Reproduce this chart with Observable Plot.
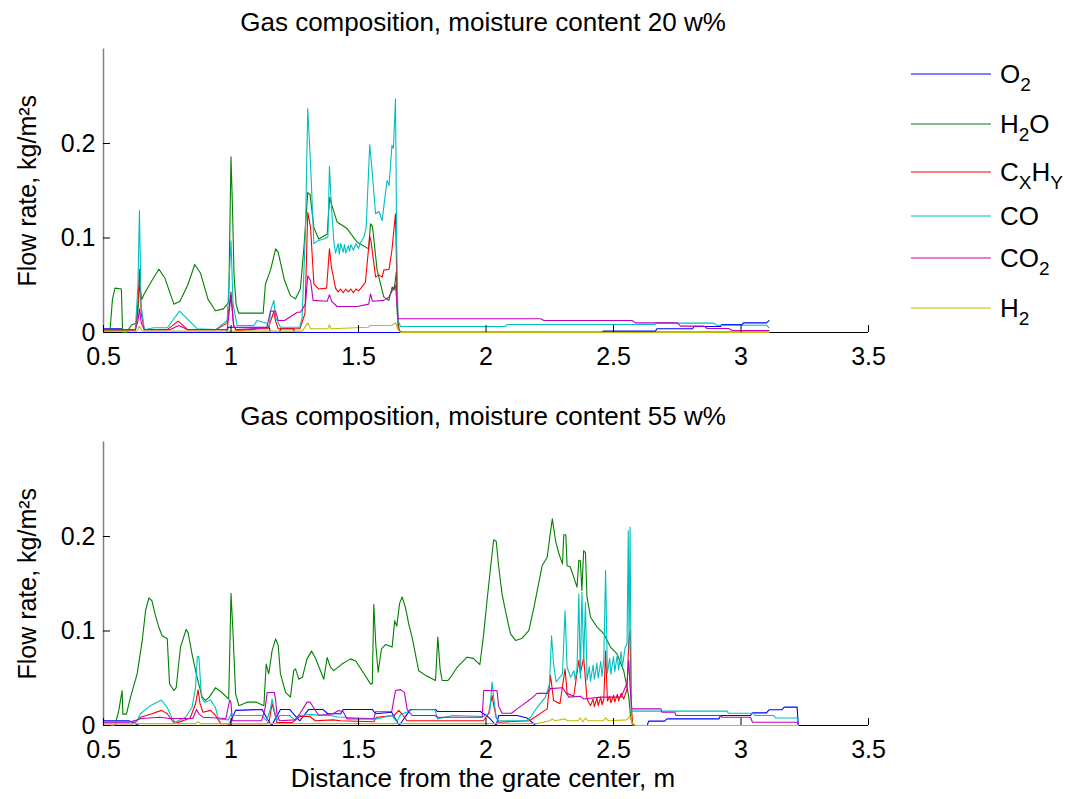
<!DOCTYPE html>
<html><head><meta charset="utf-8">
<script src="https://cdn.jsdelivr.net/npm/d3@7"></script>
<script src="https://cdn.jsdelivr.net/npm/@observablehq/plot@0.6"></script>
<style>
body{margin:0;background:#fff;}
#wrap{position:relative;width:1072px;height:799px;background:#fff;font-family:"Liberation Sans",Arial,sans-serif;color:#000;overflow:hidden}
.ttl{position:absolute;left:0;width:966px;text-align:center;font-size:26px;line-height:26px;white-space:nowrap}
.lg{position:absolute;left:911px;font-size:26px;line-height:26px;white-space:nowrap}
.lg svg{position:absolute;left:0;top:0;overflow:visible}
.lg span.t{position:absolute;left:89px;top:-13px}
.lg sub{font-size:19px;vertical-align:baseline;position:relative;top:8px}
</style></head><body><div id="wrap"></div><script>
// ---------- categories / ticks ----------
const gases = ["O2", "H2O", "CxHy", "CO", "CO2", "H2"];
const gasColors = ["#0000ff", "#008000", "#ff0000", "#00bfbf", "#bf00bf", "#bfbf00"];
const xTicks = [0.5, 1, 1.5, 2, 2.5, 3, 3.5];
const yTicks = [0, 0.1, 0.2];
const titles = ["Gas composition, moisture content 20 w%", "Gas composition, moisture content 55 w%"];

// ---------- panel 1: moisture 20 w% ([x, y] pairs) ----------
const top_O2 = [[0.5,0.004],[0.57,0.004],[0.575,0],[0.98,0],[0.99,0.0056],[1.15,0.0056],[1.155,0],[1.19,0],[1.195,0.004],[1.245,0.004],[1.25,0],[2.455,0],[2.46,0.0015],[2.665,0.0015],[2.67,0.004],[2.81,0.004],[2.815,0.0063],[2.92,0.0063],[2.925,0.0083],[3.005,0.0083],[3.01,0.0102],[3.10,0.0102],[3.11,0.0125]];
const top_H2O = [[0.5,0],[0.525,0],[0.535,0.035],[0.545,0.047],[0.57,0.046],[0.575,0],[0.59,0],[0.61,0.008],[0.63,0.01],[0.637,0.03],[0.641,0.05],[0.65,0.035],[0.66,0.041],[0.69,0.055],[0.717,0.067],[0.74,0.058],[0.776,0.030],[0.80,0.033],[0.83,0.05],[0.858,0.072],[0.88,0.063],[0.91,0.035],[0.939,0.023],[0.97,0.025],[0.991,0.032],[1.0,0.186],[1.006,0.13],[1.012,0.06],[1.02,0.03],[1.03,0.0205],[1.126,0.0205],[1.135,0.051],[1.155,0.066],[1.175,0.0885],[1.185,0.085],[1.21,0.055],[1.233,0.039],[1.253,0.0356],[1.272,0.046],[1.286,0.09],[1.301,0.148],[1.31,0.146],[1.325,0.111],[1.344,0.099],[1.377,0.104],[1.387,0.143],[1.395,0.135],[1.416,0.117],[1.455,0.110],[1.495,0.0955],[1.54,0.0885],[1.547,0.115],[1.555,0.112],[1.573,0.066],[1.599,0.0377],[1.619,0.034],[1.632,0.048],[1.64,0.045],[1.648,0.064],[1.652,0.0198],[1.66,0.002],[1.67,0],[3.11,0]];
const top_CxHy = [[0.5,0.002],[0.625,0.002],[0.635,0.03],[0.641,0.067],[0.648,0.02],[0.66,0.003],[0.75,0.003],[0.793,0.012],[0.83,0.003],[0.94,0.003],[0.985,0.0099],[1.0,0.0427],[1.01,0.008],[1.02,0.002],[1.12,0.004],[1.145,0.004],[1.168,0.022],[1.175,0.012],[1.185,0.004],[1.27,0.004],[1.29,0.0198],[1.301,0.127],[1.312,0.111],[1.325,0.0515],[1.344,0.046],[1.375,0.047],[1.386,0.0885],[1.394,0.069],[1.41,0.047],[1.42,0.043],[1.43,0.046],[1.44,0.042],[1.45,0.046],[1.46,0.043],[1.47,0.046],[1.48,0.042],[1.49,0.046],[1.50,0.044],[1.51,0.047],[1.527,0.053],[1.544,0.102],[1.55,0.095],[1.567,0.0586],[1.58,0.061],[1.593,0.0586],[1.599,0.066],[1.62,0.067],[1.631,0.087],[1.645,0.1256],[1.65,0.06],[1.655,0.004],[1.665,0.0005],[3.11,0.0005]];
const top_CO = [[0.5,0.003],[0.625,0.003],[0.635,0.05],[0.641,0.129],[0.647,0.03],[0.66,0.003],[0.697,0.005],[0.75,0.005],[0.798,0.0226],[0.867,0.004],[0.94,0.003],[0.985,0.0127],[1.0,0.097],[1.008,0.03],[1.024,0.0074],[1.09,0.0074],[1.102,0.0127],[1.14,0.0098],[1.15,0.0056],[1.155,0.023],[1.168,0.034],[1.175,0.016],[1.194,0.0056],[1.27,0.0056],[1.279,0.016],[1.292,0.108],[1.301,0.237],[1.312,0.178],[1.325,0.094],[1.34,0.097],[1.364,0.099],[1.38,0.101],[1.386,0.176],[1.394,0.1326],[1.403,0.097],[1.41,0.084],[1.42,0.094],[1.425,0.083],[1.43,0.094],[1.44,0.085],[1.445,0.093],[1.45,0.084],[1.46,0.092],[1.465,0.086],[1.47,0.093],[1.48,0.087],[1.49,0.094],[1.50,0.089],[1.51,0.096],[1.521,0.101],[1.53,0.111],[1.544,0.1986],[1.55,0.182],[1.567,0.1256],[1.58,0.128],[1.593,0.1185],[1.60,0.135],[1.612,0.161],[1.62,0.1556],[1.631,0.198],[1.637,0.195],[1.645,0.247],[1.65,0.09],[1.655,0.0127],[1.665,0.0063],[2.076,0.0063],[2.083,0.0085],[2.659,0.0085],[2.671,0.0099],[2.893,0.0099],[2.906,0.0077],[3.10,0.0077],[3.11,0.005]];
const top_CO2 = [[0.5,0.003],[0.625,0.003],[0.635,0.012],[0.641,0.025],[0.648,0.01],[0.66,0.003],[0.76,0.003],[0.795,0.0074],[0.83,0.003],[0.985,0.003],[1.0,0.039],[1.01,0.008],[1.02,0.003],[1.14,0.005],[1.155,0.0226],[1.175,0.0226],[1.185,0.0127],[1.21,0.0127],[1.26,0.0215],[1.272,0.0215],[1.292,0.03],[1.301,0.06],[1.312,0.055],[1.322,0.034],[1.377,0.033],[1.386,0.040],[1.395,0.033],[1.416,0.0275],[1.495,0.0275],[1.54,0.030],[1.547,0.041],[1.555,0.033],[1.599,0.034],[1.619,0.0373],[1.639,0.048],[1.645,0.05],[1.651,0.03],[1.655,0.0145],[2.214,0.0145],[2.227,0.0127],[2.573,0.0127],[2.586,0.0102],[2.75,0.0102],[2.763,0.0067],[2.855,0.0067],[2.867,0.0042],[2.952,0.0042],[2.965,0.0021],[3.11,0.0021]];
const top_H2 = [[0.5,0.0015],[0.63,0.0015],[0.641,0.0065],[0.652,0.0015],[1.28,0.0015],[1.301,0.0102],[1.312,0.004],[1.38,0.004],[1.386,0.008],[1.392,0.004],[1.54,0.0055],[1.544,0.0074],[1.63,0.0074],[1.645,0.0102],[1.655,0.003],[1.665,0],[3.11,0]];

// ---------- panel 2: moisture 55 w% ([x, y] pairs) ----------
const bot_O2 = [[0.5,0.005],[0.6,0.005],[0.64,0],[0.99,0],[1.0,0.005],[1.018,0.016],[1.122,0.017],[1.14,0.008],[1.16,0],[1.175,0.008],[1.185,0.0124],[1.194,0.017],[1.23,0.017],[1.25,0.0106],[1.27,0.005],[1.305,0.017],[1.36,0.017],[1.38,0.0124],[1.43,0.0124],[1.44,0.017],[1.554,0.017],[1.567,0.0124],[1.63,0.014],[1.66,0],[1.68,0.008],[1.704,0.017],[1.802,0.017],[1.81,0.0148],[1.978,0.0148],[2.01,0.0088],[2.04,0],[2.05,0.0106],[2.122,0.0106],[2.161,0.008],[2.194,0],[2.632,0],[2.638,0.0046],[2.70,0.0046],[2.71,0.007],[2.913,0.007],[2.92,0.0106],[3.037,0.0106],[3.045,0.0134],[3.10,0.0134],[3.11,0.0166],[3.16,0.0166],[3.17,0.0194],[3.22,0.0194],[3.225,0]];
const bot_H2O = [[0.5,0],[0.545,0],[0.56,0.016],[0.573,0.037],[0.576,0.012],[0.59,0.012],[0.606,0.030],[0.632,0.0547],[0.652,0.090],[0.665,0.1217],[0.678,0.135],[0.69,0.132],[0.704,0.116],[0.717,0.104],[0.73,0.095],[0.75,0.0917],[0.759,0.044],[0.776,0.037],[0.785,0.040],[0.802,0.083],[0.824,0.1016],[0.832,0.098],[0.847,0.0758],[0.867,0.051],[0.887,0.030],[0.9,0.0265],[0.915,0.030],[0.939,0.040],[0.96,0.036],[0.991,0.028],[1.0,0.140],[1.008,0.097],[1.018,0.0335],[1.031,0.021],[1.063,0.0247],[1.10,0.0247],[1.129,0.021],[1.138,0.065],[1.148,0.0547],[1.161,0.079],[1.175,0.0917],[1.185,0.085],[1.194,0.0547],[1.214,0.035],[1.233,0.030],[1.246,0.058],[1.253,0.060],[1.266,0.049],[1.28,0.051],[1.298,0.0705],[1.316,0.0787],[1.33,0.072],[1.351,0.058],[1.364,0.049],[1.377,0.072],[1.39,0.0617],[1.403,0.058],[1.435,0.065],[1.469,0.0705],[1.49,0.068],[1.514,0.058],[1.547,0.044],[1.554,0.044],[1.56,0.128],[1.568,0.085],[1.577,0.0564],[1.59,0.081],[1.606,0.0857],[1.632,0.083],[1.642,0.111],[1.65,0.105],[1.661,0.129],[1.671,0.136],[1.684,0.125],[1.697,0.1076],[1.71,0.0935],[1.736,0.058],[1.763,0.053],[1.802,0.0476],[1.811,0.0935],[1.82,0.06],[1.828,0.0476],[1.85,0.0476],[1.861,0.051],[1.887,0.0617],[1.926,0.0723],[1.95,0.071],[1.976,0.0645],[1.991,0.097],[2.004,0.132],[2.018,0.1675],[2.03,0.1965],[2.04,0.195],[2.05,0.1675],[2.063,0.139],[2.076,0.1217],[2.096,0.097],[2.116,0.090],[2.14,0.092],[2.168,0.1005],[2.188,0.125],[2.22,0.169],[2.24,0.178],[2.25,0.199],[2.26,0.2187],[2.273,0.195],[2.286,0.1817],[2.3,0.171],[2.305,0.2018],[2.313,0.2018],[2.318,0.169],[2.33,0.168],[2.344,0.157],[2.357,0.1464],[2.364,0.1746],[2.37,0.1746],[2.376,0.143],[2.383,0.185],[2.39,0.183],[2.396,0.1358],[2.41,0.1146],[2.436,0.104],[2.462,0.097],[2.488,0.083],[2.514,0.0758],[2.54,0.058],[2.553,0.0405],[2.56,0.03],[2.567,0.0088],[2.575,0],[3.225,0]];
const bot_CxHy = [[0.5,0.002],[0.62,0.002],[0.645,0.0088],[0.69,0.0124],[0.727,0.016],[0.75,0.0124],[0.77,0.005],[0.78,0.002],[0.84,0.008],[0.861,0.023],[0.871,0.0378],[0.878,0.024],[0.89,0.014],[0.92,0.016],[0.939,0.0106],[0.96,0.002],[1.14,0.002],[1.15,0.005],[1.161,0.023],[1.172,0.012],[1.18,0.003],[1.24,0.003],[1.27,0.0095],[1.31,0.0095],[1.33,0.005],[1.40,0.006],[1.43,0.005],[1.56,0.004],[1.57,0.0088],[1.64,0.0106],[1.658,0.016],[1.67,0.0124],[1.69,0.005],[1.99,0.005],[2.01,0.0124],[2.024,0.0317],[2.032,0.019],[2.04,0.0088],[2.05,0.0035],[2.17,0.005],[2.24,0.0176],[2.253,0.053],[2.265,0.0265],[2.29,0.023],[2.31,0.06],[2.318,0.034],[2.344,0.031],[2.364,0.069],[2.37,0.055],[2.383,0.072],[2.396,0.028],[2.41,0.021],[2.42,0.028],[2.425,0.02],[2.435,0.029],[2.44,0.021],[2.45,0.03],[2.455,0.022],[2.462,0.028],[2.469,0.079],[2.476,0.026],[2.485,0.031],[2.49,0.024],[2.5,0.032],[2.505,0.025],[2.515,0.033],[2.52,0.026],[2.53,0.034],[2.54,0.028],[2.553,0.038],[2.56,0.0905],[2.565,0.1005],[2.57,0.02],[2.575,0.002],[2.585,0],[3.225,0]];
const bot_CO = [[0.5,0.004],[0.63,0.004],[0.645,0.0124],[0.684,0.021],[0.727,0.027],[0.75,0.019],[0.77,0.007],[0.78,0.0035],[0.822,0.0088],[0.847,0.019],[0.861,0.0405],[0.868,0.073],[0.874,0.073],[0.884,0.030],[0.896,0.0247],[0.92,0.027],[0.939,0.019],[0.95,0.007],[0.99,0.006],[1.0,0.012],[1.02,0.0106],[1.12,0.0106],[1.14,0.005],[1.155,0.018],[1.161,0.028],[1.168,0.019],[1.18,0.005],[1.19,0.0106],[1.23,0.0106],[1.25,0.006],[1.27,0.0106],[1.31,0.0115],[1.39,0.0106],[1.42,0.009],[1.5,0.008],[1.57,0.007],[1.63,0.0106],[1.65,0.004],[1.665,0.0115],[1.71,0.0166],[1.80,0.0166],[1.81,0.007],[1.87,0.0106],[1.99,0.0095],[2.014,0.013],[2.024,0.046],[2.03,0.03],[2.04,0.008],[2.05,0.005],[2.16,0.005],[2.175,0.0088],[2.2,0.019],[2.233,0.030],[2.249,0.044],[2.257,0.095],[2.265,0.065],[2.275,0.046],[2.3,0.0547],[2.31,0.1217],[2.318,0.0617],[2.332,0.051],[2.345,0.058],[2.35,0.048],[2.357,0.06],[2.364,0.139],[2.37,0.05],[2.376,0.141],[2.383,0.068],[2.39,0.13],[2.396,0.048],[2.405,0.062],[2.41,0.047],[2.42,0.064],[2.425,0.049],[2.435,0.066],[2.44,0.05],[2.45,0.068],[2.455,0.052],[2.462,0.07],[2.469,0.164],[2.476,0.055],[2.485,0.071],[2.49,0.054],[2.5,0.073],[2.505,0.057],[2.515,0.075],[2.52,0.059],[2.53,0.078],[2.535,0.062],[2.545,0.082],[2.553,0.0864],[2.558,0.206],[2.561,0.08],[2.565,0.21],[2.57,0.0176],[2.573,0.0152],[2.946,0.0152],[2.95,0.013],[3.05,0.013],[3.055,0.0106],[3.128,0.0106],[3.135,0.008],[3.22,0.008],[3.225,0]];
const bot_CO2 = [[0.5,0.0035],[0.6,0.0035],[0.65,0.0074],[0.72,0.0088],[0.76,0.0074],[0.85,0.0074],[0.865,0.017],[0.875,0.012],[0.89,0.0088],[0.98,0.0074],[0.995,0.027],[1.0,0.024],[1.005,0.005],[1.12,0.005],[1.135,0.02],[1.142,0.035],[1.17,0.035],[1.175,0.027],[1.18,0.0124],[1.19,0.005],[1.25,0.006],[1.27,0.0124],[1.298,0.0247],[1.31,0.0247],[1.325,0.0185],[1.344,0.0106],[1.40,0.0124],[1.422,0.0159],[1.44,0.0145],[1.455,0.007],[1.56,0.007],[1.567,0.0145],[1.63,0.0145],[1.645,0.037],[1.665,0.038],[1.68,0.035],[1.691,0.017],[1.71,0.0106],[1.80,0.0106],[1.81,0.0088],[1.985,0.0088],[1.991,0.037],[2.043,0.037],[2.05,0.02],[2.063,0.013],[2.1,0.013],[2.122,0.0176],[2.14,0.021],[2.175,0.028],[2.2,0.034],[2.24,0.034],[2.253,0.039],[2.3,0.040],[2.325,0.030],[2.37,0.031],[2.383,0.028],[2.45,0.030],[2.53,0.030],[2.553,0.045],[2.56,0.069],[2.565,0.04],[2.572,0.0176],[2.686,0.0176],[2.69,0.014],[2.74,0.014],[2.745,0.0106],[2.92,0.0106],[2.925,0.0088],[3.037,0.0088],[3.045,0.0035],[3.222,0.0035],[3.225,0]];
const bot_H2 = [[0.5,0.002],[0.86,0.002],[0.871,0.004],[0.88,0.002],[2.2,0.002],[2.25,0.005],[2.26,0.007],[2.27,0.005],[2.31,0.007],[2.32,0.005],[2.36,0.005],[2.37,0.008],[2.38,0.004],[2.39,0.008],[2.40,0.005],[2.46,0.005],[2.469,0.008],[2.48,0.005],[2.55,0.006],[2.565,0.0095],[2.575,0.002],[2.585,0],[3.225,0]];

const panel1 = [top_O2, top_H2O, top_CxHy, top_CO, top_CO2, top_H2];
const panel2 = [bot_O2, bot_H2O, bot_CxHy, bot_CO, bot_CO2, bot_H2];

function rowsOf(panel) {
  const rows = [];
  panel.forEach((s, i) => s.forEach(([x, y]) => rows.push({x, y, gas: gases[i]})));
  return rows;
}

function makePanel(panel, svgH, mt, mb) {
  return Plot.plot({
    width: 1072, height: svgH,
    marginLeft: 103, marginRight: 204, marginTop: mt, marginBottom: mb,
    style: {fontFamily: '"Liberation Sans", Arial, sans-serif', fontSize: "26px", background: "transparent", overflow: "visible", color: "#000"},
    x: {domain: [0.5, 3.5]},
    y: {domain: [0, 0.3]},
    color: {domain: gases, range: gasColors},
    marks: [
      Plot.ruleX([0.5], {stroke: "#808080", strokeWidth: 1.5}),
      Plot.ruleY([0], {stroke: "#000", strokeWidth: 1.2}),
      Plot.line(rowsOf(panel), {x: "x", y: "y", z: "gas", stroke: "gas", strokeWidth: 1.1, curve: "linear"}),
      Plot.axisX({ticks: xTicks, tickSize: -7, tickPadding: 22, fontSize: 25, tickFormat: d => String(d), label: null}),
      Plot.axisY({ticks: yTicks, tickSize: -7, tickPadding: 15, fontSize: 25, tickFormat: d => String(d),
        label: "Flow rate, kg/m\u00b2s", labelAnchor: "center", labelArrow: "none", labelOffset: 85})
    ]
  });
}

const wrap = document.getElementById("wrap");
const p1 = makePanel(panel1, 390, 48.5, 58);
p1.style.position = "absolute"; p1.style.left = "0px"; p1.style.top = "0px";
wrap.appendChild(p1);
const p2 = makePanel(panel2, 404, 46.5, 74);
p2.style.position = "absolute"; p2.style.left = "0px"; p2.style.top = "395px";
wrap.appendChild(p2);

function addText(txt, top) {
  const d = document.createElement("div");
  d.className = "ttl"; d.style.top = top + "px"; d.textContent = txt;
  wrap.appendChild(d);
}
addText(titles[0], 9);
addText(titles[1], 403);
addText("Distance from the grate center, m", 765);

// legend
const legendLabels = [["O", "2"], ["H", "2", "O"], ["C", "X", "H", "Y"], ["CO"], ["CO", "2"], ["H", "2"]];
const legendY = [74, 124, 172, 216, 258, 308];
gases.forEach((g, i) => {
  const row = document.createElement("div");
  row.className = "lg"; row.style.top = legendY[i] + "px";
  row.innerHTML = `<svg width="80" height="2"><line x1="0" x2="80" y1="0" y2="0" stroke="${gasColors[i]}" stroke-width="1"/></svg>`;
  const t = document.createElement("span"); t.className = "t";
  let html = "";
  legendLabels[i].forEach((p, k) => { html += (k % 2 === 1) ? `<sub>${p}</sub>` : p; });
  t.innerHTML = html;
  row.appendChild(t);
  wrap.appendChild(row);
});
</script></body></html>
